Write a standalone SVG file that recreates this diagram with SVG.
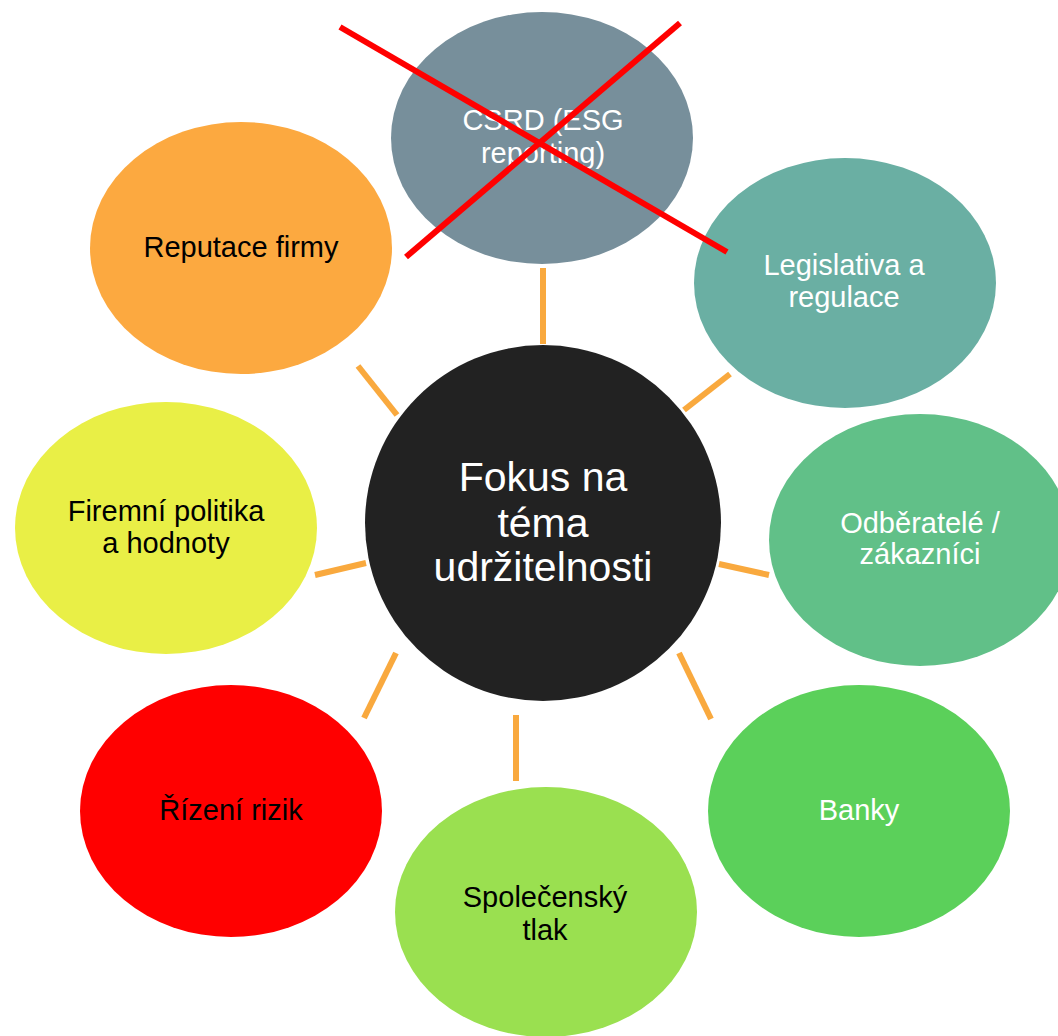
<svg xmlns="http://www.w3.org/2000/svg" width="1058" height="1036" viewBox="0 0 1058 1036">
<style>
  text { font-family: "Liberation Sans", Arial, sans-serif; text-anchor: middle; }
  .t { font-size: 29px; }
  .w { fill: #ffffff; }
  .k { fill: #000000; }
  .c { stroke: #F9A93E; stroke-width: 6; stroke-linecap: butt; fill: none; }
  .x { stroke: #FF0000; stroke-width: 6; fill: none; }
</style>
<rect width="1058" height="1036" fill="#ffffff"/>
<g id="connectors">
  <line class="c" x1="543" y1="268" x2="543" y2="344"/>
  <line class="c" x1="730" y1="374" x2="684" y2="410"/>
  <line class="c" x1="719" y1="564" x2="769" y2="575"/>
  <line class="c" x1="679" y1="653" x2="711" y2="719"/>
  <line class="c" x1="516" y1="715" x2="516" y2="781"/>
  <line class="c" x1="396" y1="653" x2="364" y2="718"/>
  <line class="c" x1="366" y1="563" x2="315" y2="575"/>
  <line class="c" x1="358" y1="366" x2="397" y2="415"/>
</g>
<g id="node-csrd">
  <ellipse cx="542" cy="138" rx="151" ry="126" fill="#778F9B"/>
  <text class="t w" x="543" y="130">CSRD (ESG</text>
  <text class="t w" x="543" y="163">reporting)</text>
</g>
<g id="node-legislativa">
  <ellipse cx="845" cy="283" rx="151" ry="125" fill="#6AAFA3"/>
  <text class="t w" x="844" y="275">Legislativa a</text>
  <text class="t w" x="844" y="307">regulace</text>
</g>
<g id="node-odberatele">
  <ellipse cx="920" cy="540" rx="151" ry="126" fill="#61C088"/>
  <text class="t w" x="920" y="533">Odběratelé /</text>
  <text class="t w" x="920" y="564">zákazníci</text>
</g>
<g id="node-banky">
  <ellipse cx="859" cy="811" rx="151" ry="126" fill="#5BD05A"/>
  <text class="t w" x="859" y="820">Banky</text>
</g>
<g id="node-spolecensky">
  <ellipse cx="546" cy="912" rx="151" ry="125" fill="#9AE050"/>
  <text class="t k" x="545" y="907">Společenský</text>
  <text class="t k" x="545" y="940">tlak</text>
</g>
<g id="node-rizeni">
  <ellipse cx="231" cy="811" rx="151" ry="126" fill="#FF0000"/>
  <text class="t k" x="231" y="820">Řízení rizik</text>
</g>
<g id="node-firemni">
  <ellipse cx="166" cy="528" rx="151" ry="126" fill="#E9EF46"/>
  <text class="t k" x="166" y="521">Firemní politika</text>
  <text class="t k" x="166" y="553">a hodnoty</text>
</g>
<g id="node-reputace">
  <ellipse cx="241" cy="248" rx="151" ry="126" fill="#FCA940"/>
  <text class="t k" x="241" y="257">Reputace firmy</text>
</g>
<g id="node-center">
  <circle cx="543" cy="523" r="178" fill="#222222"/>
  <text class="w" style="font-size:41px" x="543" y="491">Fokus na</text>
  <text class="w" style="font-size:41px" x="543" y="537">téma</text>
  <text class="w" style="font-size:41px" x="543" y="581">udržitelnosti</text>
</g>
<g id="cross">
  <line class="x" x1="340" y1="27" x2="727" y2="252"/>
  <line class="x" x1="680" y1="23" x2="406" y2="257"/>
</g>
</svg>
